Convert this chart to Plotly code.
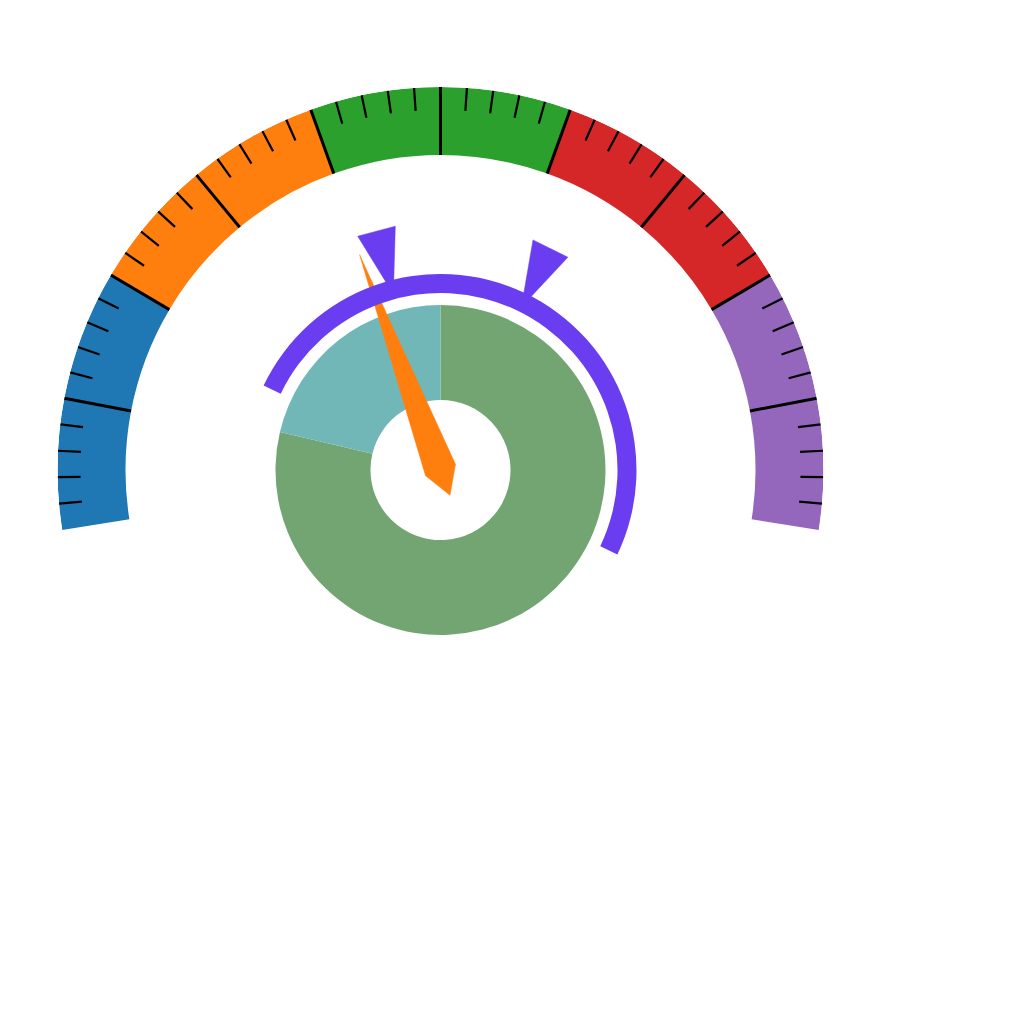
import plotly.graph_objects as go

# ---------------- data ----------------
gauge_range = [0, 100]
band_edges = [0, 20, 40, 60, 80, 100]
band_colors = ["#1f77b4", "#ff7f0e", "#2ca02c", "#d62728", "#9467bd"]
major_ticks = [10, 20, 30, 40, 50, 60, 70, 80, 90]
minor_ticks = [v for v in range(2, 100, 2) if v % 10 != 0]
needle_value = 39.6

pie_labels = ["Main", "Other"]
pie_values = [78.7, 21.3]
pie_colors = ["#72a572", "#72b7b8"]

ring_range = [0, 100]
ring_markers = [27.5, 50.5]
ring_color = "#6a3ef0"
needle_color = "#ff7f0e"

# ---------------- geometry / style ----------------
G_START, G_SPAN = 189.0, 198.0      # gauge angular start (deg) and sweep (clockwise)
R_START, R_SPAN = 154.5, 180.0      # ring angular start and sweep
R_OUT, R_IN, MINOR_LEN = 383, 315, 23
PIE_IN, PIE_OUT = 70, 165
RING_IN, RING_OUT = 177, 196
MK_BASE, MK_TIP, MK_HALF = 248, 182, 4.5
NEEDLE_LEN, NEEDLE_SIDE, NEEDLE_BACK = 230, 16, 27


def g_ang(v):
    return G_START - G_SPAN * (v - gauge_range[0]) / (gauge_range[1] - gauge_range[0])


def r_ang(v):
    return R_START - R_SPAN * (v - ring_range[0]) / (ring_range[1] - ring_range[0])


fig = go.Figure()

# gauge bands
for i, col in enumerate(band_colors):
    a0, a1 = g_ang(band_edges[i]), g_ang(band_edges[i + 1])
    fig.add_trace(go.Barpolar(
        r=[R_OUT - R_IN], base=[R_IN], theta=[(a0 + a1) / 2], width=[abs(a0 - a1)],
        marker=dict(color=col, line=dict(width=0)), subplot="polar", showlegend=False,
        hoverinfo="skip"))

# minor ticks
rr, tt = [], []
for v in minor_ticks:
    rr += [R_OUT - MINOR_LEN, R_OUT, None]
    tt += [g_ang(v), g_ang(v), None]
fig.add_trace(go.Scatterpolar(r=rr, theta=tt, mode="lines", line=dict(color="black", width=2.2),
                              subplot="polar", showlegend=False, hoverinfo="skip"))
# major ticks
rr, tt = [], []
for v in major_ticks:
    rr += [R_IN, R_OUT, None]
    tt += [g_ang(v), g_ang(v), None]
fig.add_trace(go.Scatterpolar(r=rr, theta=tt, mode="lines", line=dict(color="black", width=3),
                              subplot="polar", showlegend=False, hoverinfo="skip"))

# donut (clockwise from 12 o'clock)
total = sum(pie_values)
start = 90.0
for lab, val, col in zip(pie_labels, pie_values, pie_colors):
    sweep = 360.0 * val / total
    fig.add_trace(go.Barpolar(
        r=[PIE_OUT - PIE_IN], base=[PIE_IN], theta=[start - sweep / 2], width=[sweep],
        marker=dict(color=col, line=dict(width=0)), name=lab, subplot="polar",
        showlegend=False, hoverinfo="skip"))
    start -= sweep

# needle
a = g_ang(needle_value)
fig.add_trace(go.Scatterpolar(
    r=[NEEDLE_LEN, NEEDLE_SIDE, NEEDLE_BACK, NEEDLE_SIDE, NEEDLE_LEN],
    theta=[a, a - 90, a + 180, a + 90, a],
    mode="lines", fill="toself", fillcolor=needle_color, line=dict(color=needle_color, width=0.5),
    subplot="polar", showlegend=False, hoverinfo="skip"))

# ring
fig.add_trace(go.Barpolar(
    r=[RING_OUT - RING_IN], base=[RING_IN], theta=[(r_ang(ring_range[0]) + r_ang(ring_range[1])) / 2],
    width=[R_SPAN], marker=dict(color=ring_color, line=dict(width=0)), subplot="polar2",
    showlegend=False, hoverinfo="skip"))

# ring markers
for m in ring_markers:
    am = r_ang(m)
    fig.add_trace(go.Scatterpolar(
        r=[MK_BASE, MK_BASE, MK_TIP, MK_BASE], theta=[am - MK_HALF, am + MK_HALF, am, am - MK_HALF],
        mode="lines", fill="toself", fillcolor=ring_color, line=dict(color=ring_color, width=0.5),
        subplot="polar2", showlegend=False, hoverinfo="skip"))

W = H = 1024
cx, cy = 440.5, 470.0
dom_x = [(cx - R_OUT) / W, (cx + R_OUT) / W]
dom_y = [1 - (cy + R_OUT) / H, 1 - (cy - R_OUT) / H]

polar_common = dict(
    domain=dict(x=dom_x, y=dom_y),
    bgcolor="rgba(0,0,0,0)",
    hole=0,
    sector=[0, 360],
    barmode="overlay",
    radialaxis=dict(visible=False, range=[0, R_OUT], showgrid=False),
    angularaxis=dict(visible=False, direction="counterclockwise", rotation=0, showgrid=False,
                     showline=False),
)

fig.update_layout(
    width=W, height=H,
    margin=dict(l=0, r=0, t=0, b=0),
    paper_bgcolor="white", plot_bgcolor="white",
    polar=polar_common,
    polar2=polar_common,
    showlegend=False,
)

fig.write_html("out.html")
